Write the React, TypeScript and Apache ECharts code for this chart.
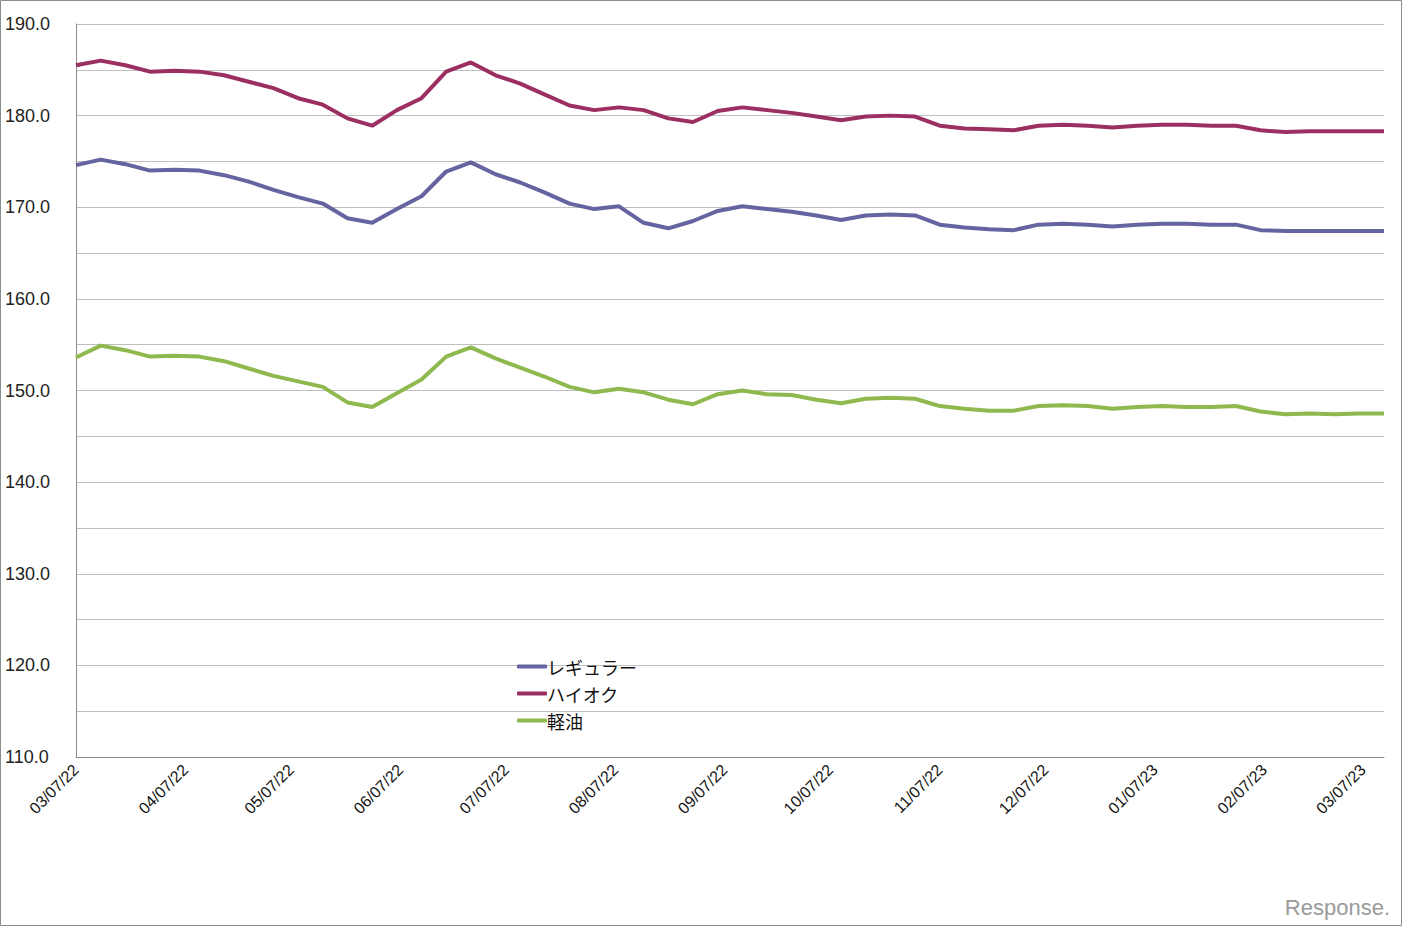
import React, { useEffect, useRef } from "react";
import * as echarts from "echarts";

// weekly survey values, Mar 7 2022 .. Mar 13 2023 (54 weeks)
const regular = [
  174.6, 175.2, 174.7, 174.0, 174.1, 174.0, 173.5, 172.8, 171.9, 171.1,
  170.4, 168.8, 168.3, 169.8, 171.2, 173.9, 174.9, 173.6, 172.7, 171.6,
  170.4, 169.8, 170.1, 168.3, 167.7, 168.5, 169.6, 170.1, 169.8, 169.5,
  169.1, 168.6, 169.1, 169.2, 169.1, 168.1, 167.8, 167.6, 167.5, 168.1,
  168.2, 168.1, 167.9, 168.1, 168.2, 168.2, 168.1, 168.1, 167.5, 167.4,
  167.4, 167.4, 167.4, 167.4,
];
const highOctane = [
  185.5, 186.0, 185.5, 184.8, 184.9, 184.8, 184.4, 183.7, 183.0, 181.9,
  181.2, 179.7, 178.9, 180.6, 181.9, 184.8, 185.8, 184.4, 183.5, 182.3,
  181.1, 180.6, 180.9, 180.6, 179.7, 179.3, 180.5, 180.9, 180.6, 180.3,
  179.9, 179.5, 179.9, 180.0, 179.9, 178.9, 178.6, 178.5, 178.4, 178.9,
  179.0, 178.9, 178.7, 178.9, 179.0, 179.0, 178.9, 178.9, 178.4, 178.2,
  178.3, 178.3, 178.3, 178.3,
];
const diesel = [
  153.6, 154.9, 154.4, 153.7, 153.8, 153.7, 153.2, 152.4, 151.6, 151.0,
  150.4, 148.7, 148.2, 149.7, 151.2, 153.7, 154.7, 153.5, 152.5, 151.5,
  150.4, 149.8, 150.2, 149.8, 149.0, 148.5, 149.6, 150.0, 149.6, 149.5,
  149.0, 148.6, 149.1, 149.2, 149.1, 148.3, 148.0, 147.8, 147.8, 148.3,
  148.4, 148.3, 148.0, 148.2, 148.3, 148.2, 148.2, 148.3, 147.7, 147.4,
  147.5, 147.4, 147.5, 147.5,
];
const seriesNames = ["レギュラー", "ハイオク", "軽油"];
const startDate = Date.UTC(2022, 2, 7);
const dayCount = 372; // axis spans Mar 7 2022 .. Mar 13 2023

const pad = (n: number) => (n < 10 ? "0" + n : "" + n);
const dayLabels: string[] = [];
for (let d = 0; d < dayCount; d++) {
  const dt = new Date(startDate + d * 86400000);
  dayLabels.push(
    pad(dt.getUTCMonth() + 1) + "/" + pad(dt.getUTCDate()) + "/" + pad(dt.getUTCFullYear() % 100)
  );
}
const toPairs = (arr: number[]) => arr.map((v, i) => [i * 7, v]);

export default function App() {
  const ref = useRef<HTMLDivElement>(null);
  useEffect(() => {
    document.body.style.margin = "0";
    const chart = echarts.init(ref.current!, null, { renderer: "svg" });
    const colors = ["#6664a0", "#9c2f62", "#8fb84e"];
    chart.setOption({
      animation: false,
      backgroundColor: "#ffffff",
      color: colors,
      grid: { left: 76, right: 18, top: 24, bottom: 169, containLabel: false },
      legend: {
        orient: "vertical",
        left: 512,
        top: 652,
        itemWidth: 30,
        itemHeight: 4,
        itemGap: 8,
        icon: "roundRect",
        data: seriesNames,
        textStyle: {
          fontFamily: "'Noto Sans CJK JP', sans-serif",
          fontSize: 18,
          lineHeight: 19,
          color: "#111",
          padding: [0, 0, 0, -5],
        },
      },
      xAxis: {
        type: "category",
        data: dayLabels,
        boundaryGap: false,
        axisLine: { show: true, lineStyle: { color: "#8c8c8c", width: 1 } },
        axisTick: { show: false },
        axisLabel: {
          interval: (index: number, value: string) => value.slice(3, 5) === "07",
          rotate: 45,
          margin: 10,
          fontFamily: "'Liberation Sans', Arial, sans-serif",
          fontSize: 16,
          color: "#111",
        },
        splitLine: { show: false },
      },
      yAxis: {
        type: "value",
        min: 110,
        max: 190,
        interval: 5,
        axisLine: { show: true, lineStyle: { color: "#8c8c8c", width: 1 } },
        axisTick: { show: false },
        axisLabel: {
          formatter: (v: number) => (v % 10 === 0 ? v.toFixed(1) : ""),
          fontFamily: "'Liberation Sans', Arial, sans-serif",
          fontSize: 18,
          color: "#222",
          align: "left",
          margin: 71,
        },
        splitLine: { show: true, lineStyle: { color: "#bfbfbf", width: 1 } },
      },
      series: [
        { name: seriesNames[0], type: "line", data: toPairs(regular), showSymbol: false, symbol: "none", lineStyle: { width: 4, color: colors[0] } },
        { name: seriesNames[1], type: "line", data: toPairs(highOctane), showSymbol: false, symbol: "none", lineStyle: { width: 4, color: colors[1] } },
        { name: seriesNames[2], type: "line", data: toPairs(diesel), showSymbol: false, symbol: "none", lineStyle: { width: 4, color: colors[2] } },
      ],
      graphic: [
        {
          type: "rect",
          shape: { x: 0.5, y: 0.5, width: 1401, height: 925 },
          style: { fill: "none", stroke: "#8c8c8c", lineWidth: 1 },
          silent: true,
        },
        {
          type: "text",
          right: 12,
          bottom: 8,
          style: {
            text: "Response.",
            fontFamily: "'Liberation Sans', Arial, sans-serif",
            fontSize: 22,
            fill: "#9a9a9a",
          },
          silent: true,
        },
      ],
    });
    return () => chart.dispose();
  }, []);
  return <div ref={ref} style={{ width: 1402, height: 926 }} />;
}
